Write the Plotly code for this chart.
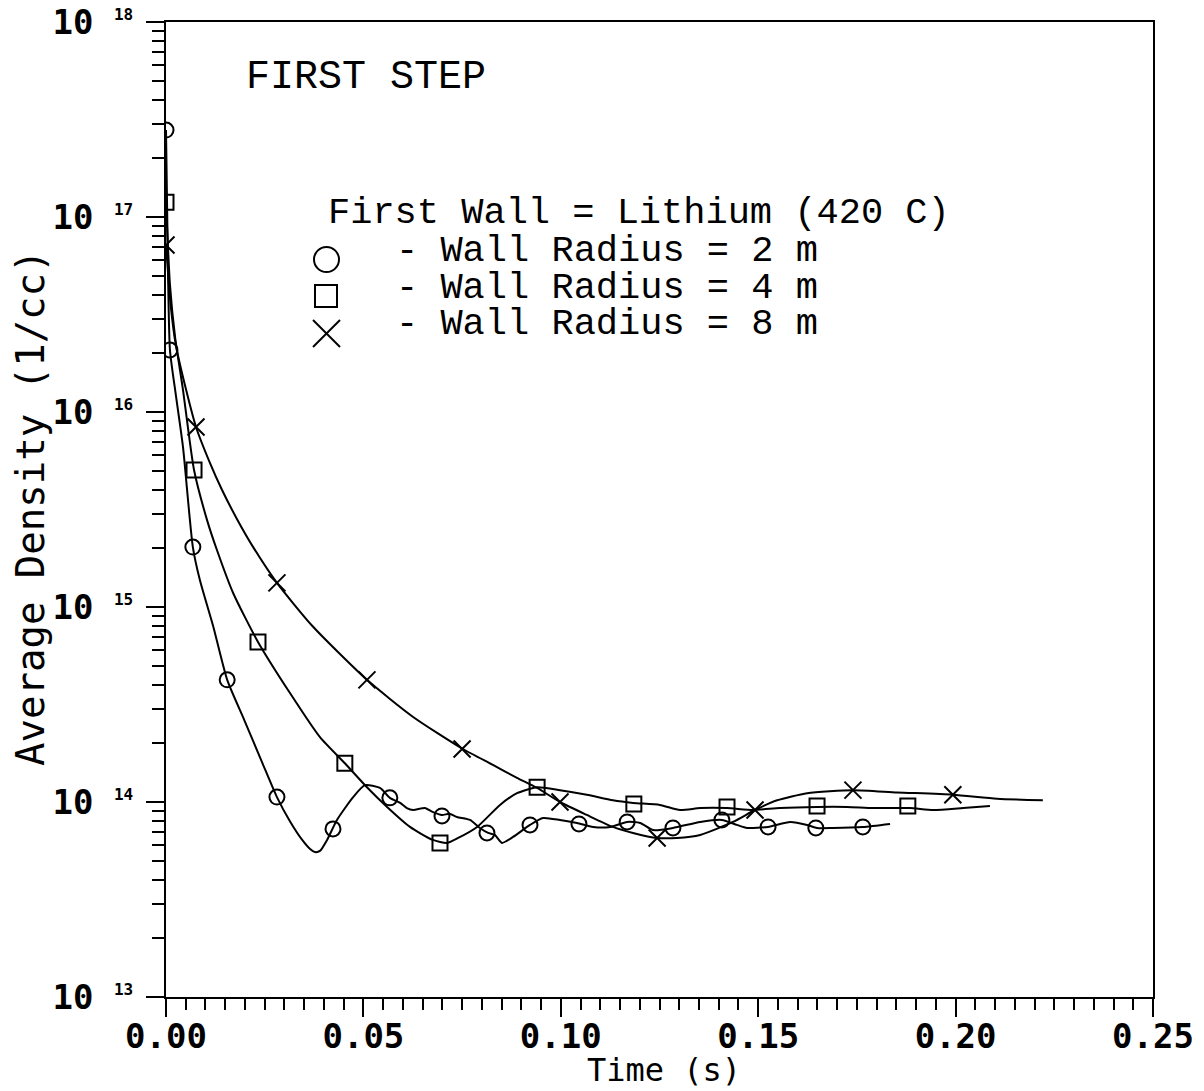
import plotly.graph_objects as go

# ---------------- data ----------------
# Wall radius = 2 m (circles)
t_2m = [0, 0.0004, 0.0010, 0.0025, 0.0043, 0.0068, 0.0086, 0.0120, 0.0155, 0.0198,
        0.0245, 0.0281, 0.0315, 0.0345, 0.0365, 0.0377, 0.0390, 0.0408, 0.0433, 0.0474,
        0.0504, 0.0542, 0.0567, 0.0593, 0.0610, 0.0626, 0.0656, 0.0675, 0.0699, 0.0718,
        0.0737, 0.0770, 0.0795, 0.0816, 0.0833, 0.0851, 0.0879, 0.0922, 0.0955, 0.0998,
        0.1041, 0.1082, 0.1125, 0.1168, 0.1201, 0.1234, 0.1284, 0.1353, 0.1408, 0.1446,
        0.1472, 0.1525, 0.1581, 0.1624, 0.1649, 0.1689, 0.1765, 0.1834]
n_2m = [2.79e17, 7.6e16, 2.08e16, 1.22e16, 6.62e15, 2.03e15, 1.37e15, 7.9e14, 4.23e14, 2.64e14,
        1.57e14, 1.06e14, 7.9e13, 6.39e13, 5.74e13, 5.54e13, 5.61e13, 6.39e13, 8.09e13, 1.06e14,
        1.22e14, 1.18e14, 1.05e14, 9.89e13, 9.31e13, 9.10e13, 9.31e13, 8.9e13, 8.58e13, 8.7e13,
        8.38e13, 8.09e13, 7.36e13, 6.94e13, 6.78e13, 6.17e13, 6.62e13, 7.63e13, 8.28e13, 8.09e13,
        7.81e13, 7.45e13, 7.45e13, 7.90e13, 7.81e13, 7.18e13, 7.36e13, 7.90e13, 8.09e13, 7.63e13,
        7.36e13, 7.45e13, 7.90e13, 7.63e13, 7.36e13, 7.36e13, 7.45e13, 7.72e13]
tm_2m = [0, 0.0010, 0.0068, 0.0155, 0.0281, 0.0423, 0.0567, 0.0699, 0.0813, 0.0922,
         0.1046, 0.1168, 0.1284, 0.1408, 0.1525, 0.1646, 0.1765]
nm_2m = [2.79e17, 2.08e16, 2.03e15, 4.23e14, 1.06e14, 7.28e13, 1.05e14, 8.48e13, 6.94e13, 7.63e13,
         7.72e13, 7.90e13, 7.36e13, 8.09e13, 7.45e13, 7.36e13, 7.45e13]

# Wall radius = 4 m (squares)
t_4m = [0, 0.0010, 0.0023, 0.0043, 0.0071, 0.0104, 0.0129, 0.0170, 0.0233, 0.0314,
        0.0390, 0.0453, 0.0509, 0.0560, 0.0618, 0.0676, 0.0712, 0.0740, 0.0788, 0.0846,
        0.0889, 0.0940, 0.0998, 0.1066, 0.1132, 0.1183, 0.1251, 0.1302, 0.1353, 0.1421,
        0.1487, 0.1555, 0.1649, 0.1725, 0.1791, 0.1884, 0.1943, 0.2019, 0.2087]
n_4m = [1.19e17, 4.5e16, 2.42e16, 1.30e16, 5.04e15, 2.79e15, 1.96e15, 1.18e15, 6.62e14, 3.62e14,
        2.15e14, 1.58e14, 1.19e14, 9.43e13, 7.45e13, 6.39e13, 6.17e13, 6.54e13, 7.45e13, 9.66e13,
        1.11e14, 1.19e14, 1.15e14, 1.09e14, 1.02e14, 9.89e13, 9.66e13, 9.10e13, 9.31e13, 9.31e13,
        9.10e13, 9.31e13, 9.43e13, 9.43e13, 9.31e13, 9.31e13, 9.10e13, 9.31e13, 9.54e13]
tm_4m = [0, 0.0071, 0.0233, 0.0453, 0.0694, 0.0940, 0.1185, 0.1421, 0.1649, 0.1879]
nm_4m = [1.19e17, 5.04e15, 6.62e14, 1.58e14, 6.17e13, 1.19e14, 9.77e13, 9.43e13, 9.54e13, 9.54e13]

# Wall radius = 8 m (crosses)
t_8m = [0, 0.0012, 0.0025, 0.0053, 0.0076, 0.0111, 0.0142, 0.0180, 0.0220, 0.0281,
        0.0372, 0.0509, 0.0626, 0.0752, 0.0828, 0.0889, 0.0940, 0.0998, 0.1066, 0.1132,
        0.1183, 0.1244, 0.1294, 0.1353, 0.1436, 0.1492, 0.1548, 0.1624, 0.1740, 0.1852,
        0.1993, 0.2105, 0.2221]
n_8m = [7.18e16, 3.5e16, 2.2e16, 1.25e16, 8.38e15, 5.50e15, 3.98e15, 2.82e15, 2.04e15, 1.33e15,
        7.94e14, 4.23e14, 2.73e14, 1.87e14, 1.55e14, 1.33e14, 1.18e14, 1.00e14, 8.58e13, 7.45e13,
        6.94e13, 6.54e13, 6.54e13, 6.78e13, 7.90e13, 9.10e13, 1.02e14, 1.11e14, 1.15e14, 1.12e14,
        1.09e14, 1.04e14, 1.02e14]
tm_8m = [0, 0.0076, 0.0281, 0.0509, 0.0750, 0.0998, 0.1244, 0.1492, 0.1740, 0.1993]
nm_8m = [7.18e16, 8.38e15, 1.33e15, 4.23e14, 1.87e14, 1.00e14, 6.54e13, 9.10e13, 1.15e14, 1.09e14]

x_ticks = [0.00, 0.05, 0.10, 0.15, 0.20, 0.25]
x_ticktext = ["0.00", "0.05", "0.10", "0.15", "0.20", "0.25"]
y_exponents = [13, 14, 15, 16, 17, 18]

x_title = "Time (s)"
y_title = "Average Density (1/cc)"
legend_title = "First Wall = Lithium (420 C)"
legend_labels = ["- Wall Radius = 2 m", "- Wall Radius = 4 m", "- Wall Radius = 8 m"]
panel_label = "FIRST STEP"

# ---------------- figure ----------------
W, H = 1204, 1091
L, T = 166, 22
PW, PH = 987, 975
R, B = W - L - PW, H - T - PH


def px(x):                   # page pixel -> paper x
    return (x - L) / PW


def py(y):                   # page pixel -> paper y
    return (T + PH - y) / PH


TICKFONT = dict(family="DejaVu Sans Mono", size=34, color="black", weight="bold")
TEXTFONT = dict(family="Liberation Mono", size=37, color="black")

fig = go.Figure()
series = [
    (t_2m, n_2m, tm_2m, nm_2m, "circle-open", 15),
    (t_4m, n_4m, tm_4m, nm_4m, "square-open", 15),
    (t_8m, n_8m, tm_8m, nm_8m, "x-thin-open", 17),
]
for t, n, tm, nm, sym, sz in series:
    fig.add_trace(go.Scatter(x=t, y=n, mode="lines",
                             line=dict(color="black", width=2, shape="spline", smoothing=0.6),
                             showlegend=False, hoverinfo="skip"))
    fig.add_trace(go.Scatter(x=tm, y=nm, mode="markers",
                             marker=dict(symbol=sym, size=sz, color="black",
                                         line=dict(width=2, color="black")),
                             showlegend=False))

y_tickvals = [10.0 ** e for e in y_exponents]
y_ticktext = ["10\u00a0<sup><span style='font-size:16px'>%d</span></sup>" % e for e in y_exponents]
y_minor = [k * 10.0 ** e for e in y_exponents[:-1] for k in range(2, 10)]

fig.update_xaxes(range=[0, 0.25], tickvals=x_ticks, ticktext=x_ticktext,
                 ticks="outside", ticklen=18, tickwidth=2, tickcolor="black",
                 minor=dict(ticks="outside", dtick=0.005, ticklen=11, tickwidth=2, tickcolor="black"),
                 showline=True, linewidth=2, linecolor="black", mirror=True,
                 showgrid=False, zeroline=False, tickfont=TICKFONT, ticklabelstandoff=-10,
                 ticklabeloverflow="allow", automargin=False)
fig.update_yaxes(type="log", range=[13, 18], tickvals=y_tickvals, ticktext=y_ticktext,
                 ticks="outside", ticklen=18, tickwidth=2, tickcolor="black",
                 minor=dict(ticks="outside", tickvals=y_minor, ticklen=12, tickwidth=2, tickcolor="black"),
                 showline=True, linewidth=2, linecolor="black", mirror=True,
                 showgrid=False, zeroline=False, tickfont=TICKFONT, ticklabelstandoff=6,
                 ticklabeloverflow="allow", automargin=False)

annotations = [
    dict(text=panel_label, x=px(244), y=py(78), xanchor="left", yanchor="middle",
         font=dict(family="Liberation Mono", size=40, color="black")),
    dict(text=legend_title, x=px(326), y=py(213), xanchor="left", yanchor="middle"),
    dict(text=x_title, x=px(664), y=py(1070), xanchor="center", yanchor="middle",
         font=dict(family="DejaVu Sans Mono", size=32, color="black")),
    dict(text=y_title, x=px(30), y=py(508), xanchor="center", yanchor="middle", textangle=-90,
         font=dict(family="DejaVu Sans Mono", size=39, color="black")),
]
for i, lab in enumerate(legend_labels):
    annotations.append(dict(text=lab, x=px(394), y=py([251, 288, 324][i]),
                            xanchor="left", yanchor="middle"))
for a in annotations:
    a.update(xref="paper", yref="paper", showarrow=False)
    a.setdefault("font", TEXTFONT)

shapes = [
    dict(type="circle", x0=px(314), x1=px(339), y0=py(247), y1=py(272)),
    dict(type="rect", x0=px(315), x1=px(337), y0=py(285), y1=py(307)),
    dict(type="line", x0=px(313), x1=px(340), y0=py(320), y1=py(347)),
    dict(type="line", x0=px(313), x1=px(340), y0=py(347), y1=py(320)),
]
for s in shapes:
    s.update(xref="paper", yref="paper", line=dict(color="black", width=2))

fig.update_layout(width=W, height=H, margin=dict(l=L, r=R, t=T, b=B),
                  paper_bgcolor="white", plot_bgcolor="white",
                  annotations=annotations, shapes=shapes, showlegend=False)

fig.write_html("out.html", config={"displayModeBar": False},
               post_script="document.documentElement.style.overflow='hidden';"
                           "document.body.style.margin='0';document.body.style.overflow='hidden';")
